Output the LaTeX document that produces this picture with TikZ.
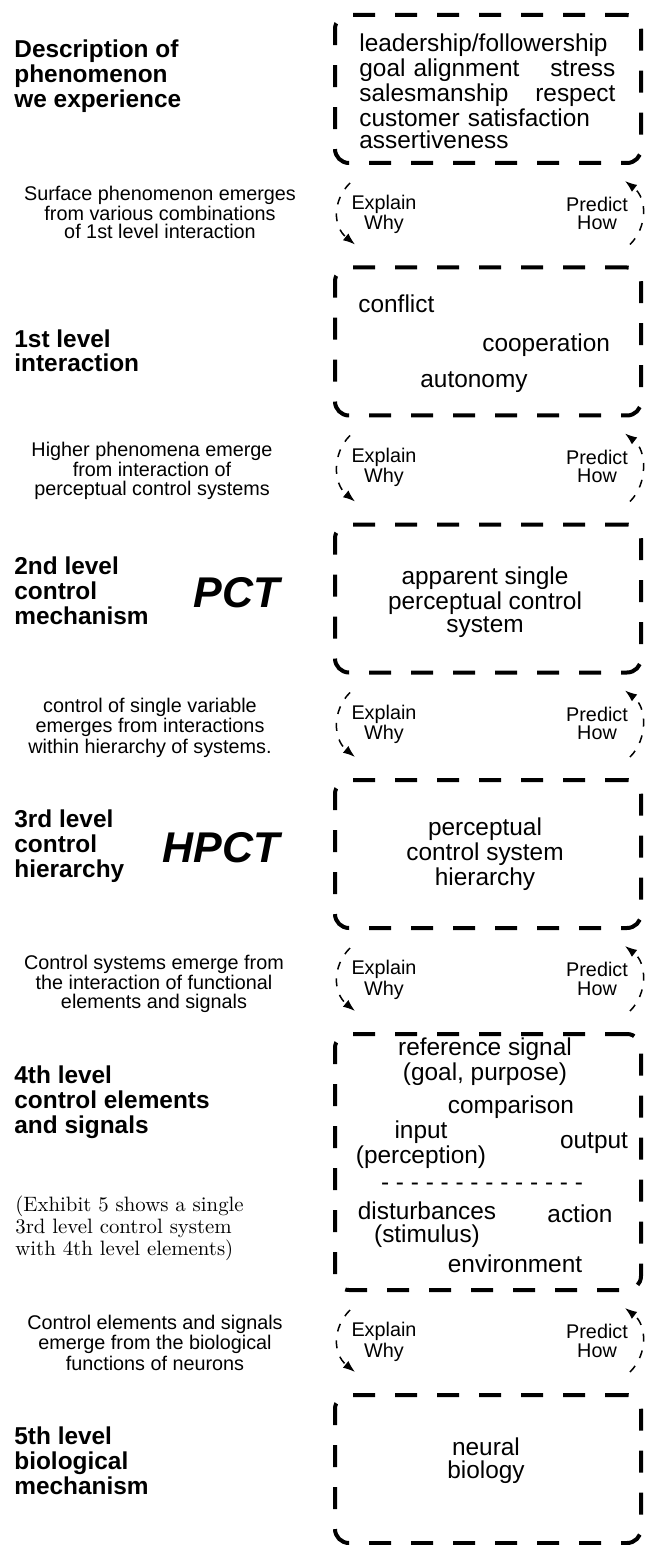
\documentclass[tikz,border=0pt]{standalone}
\usepackage{fontspec}
\usepackage{tikz}
\usetikzlibrary{arrows.meta}
\newfontfamily\helv{Liberation Sans}

\begin{document}
\begin{tikzpicture}[x=0.5pt,y=-0.5pt,
  levelbox/.style={draw, line width=2pt, dash pattern=on 11pt off 10pt,
    rounded corners=7pt, minimum width=153pt, minimum height=74pt, inner sep=0pt},
  boxtext/.style={font=\helv\fontsize{12.2}{11.25}\selectfont, align=center, inner sep=0pt, anchor=base},
  heading/.style={font=\helv\bfseries\fontsize{12.2}{12.5}\selectfont, align=left, inner sep=0pt, anchor=base west},
  note/.style={font=\helv\fontsize{9.9}{9.15}\selectfont, align=center, inner sep=0pt, anchor=base},
  acronym/.style={font=\helv\bfseries\itshape\fontsize{21.5}{21.5}\selectfont, inner sep=0pt, anchor=base east},
  emergearc/.style={line width=0.75pt, dash pattern=on 4pt off 4.5pt, -{Latex[length=6pt,width=4.4pt]}}]
  \useasboundingbox (0,0) rectangle (644,1545);

  % explain/predict loop between two levels (labels sit on their last line)
  \def\emerge#1#2{
    \draw[emergearc] ([shift={(17,18)}]#1.south west) .. controls +(-18,18) and +(-22,-18) .. ([shift={(22,-21)}]#2.north west);
    \draw[emergearc] ([shift={(-13,-21)}]#2.north east) .. controls +(18,-18) and +(22,17) .. ([shift={(-18,16)}]#1.south east);
    \node[note] (#1why) at ([shift={(-104,65)}]#1.south) {Explain\\Why};
    \node[note] (#1how) at ([shift={(109,65)}]#1.south) {Predict\\How};
  }

  % Draw the level boxes
  \node[levelbox] (b1) at (488,89) {};
  \node[levelbox] (b2) at (488,341.5) {};
  \node[levelbox] (b3) at (488,598.5) {};
  \node[levelbox] (b4) at (488,854) {};
  \node[levelbox, minimum height=128pt] (b5) at (488,1162) {};
  \node[levelbox] (b6) at (488,1469) {};

  % Box contents
  \node[boxtext, align=left, text width=128pt, anchor=base west] (t1) at (359,52)
    {leadership/followership\\goal alignment\hfill stress\\salesmanship\hfill respect\\customer satisfaction\\assertiveness};
  \node[boxtext, anchor=base west] (conflict) at (358,313) {conflict};
  \node[boxtext, anchor=base west] (cooperation) at (482,352) {cooperation};
  \node[boxtext, anchor=base west] (autonomy) at (420,388) {autonomy};
  \node[boxtext] (t3) at (485,632) {apparent single\\perceptual control\\system};
  \node[boxtext] (t4) at (485,885) {perceptual\\control system\\hierarchy};
  \node[boxtext] (refsig) at (485,1080) {reference signal\\(goal, purpose)};
  \node[boxtext] (compare) at (511,1113) {comparison};
  \node[boxtext] (input) at (421,1163) {input\\(perception)};
  \node[boxtext] (output) at (594,1148) {output};
  \node[boxtext] (divider) at (482,1190) {- - - - - - - - - - - - - -};
  \node[boxtext] (disturb) at (427,1242) {disturbances\\(stimulus)};
  \node[boxtext] (action) at (580,1222) {action};
  \node[boxtext] (environ) at (515,1272) {environment};
  \node[boxtext] (t6) at (486,1478) {neural\\biology};

  % Level headings
  \node[heading] (h0) at (14,108) {Description of\\phenomenon\\we experience};
  \node[heading] (h1) at (14,372) {1st level\\interaction};
  \node[heading] (h2) at (14,624) {2nd level\\control\\mechanism};
  \node[heading] (h3) at (14,877) {3rd level\\control\\hierarchy};
  \node[heading] (h4) at (14,1133) {4th level\\control elements\\and signals};
  \node[heading] (h5) at (14,1494) {5th level\\biological\\mechanism};
  \node[acronym] (pct) at (280,607) {PCT};
  \node[acronym] (hpct) at (280,862) {HPCT};

  % Emergence notes
  \node[note] (n1) at (160,239) {Surface phenomenon emerges\\from various combinations\\of 1st level interaction};
  \node[note] (n2) at (152,495) {Higher phenomena emerge\\from interaction of\\perceptual control systems};
  \node[note] (n3) at (150,753) {control of single variable\\emerges from interactions\\within hierarchy of systems.};
  \node[note] (n4) at (154,1008) {Control systems emerge from\\the interaction of functional\\elements and signals};
  \node[note] (n5) at (155,1370) {Control elements and signals\\emerge from the biological\\functions of neurons};
  \node[font=\fontsize{10.4}{9.25}\selectfont, align=left, inner sep=0pt, anchor=base west] (exhibit) at (15,1255)
    {(Exhibit 5 shows a single\\3rd level control system\\with 4th level elements)};

  % Explain / predict loops
  \emerge{b1}{b2}
  \emerge{b2}{b3}
  \emerge{b3}{b4}
  \emerge{b4}{b5}
  \emerge{b5}{b6}

\end{tikzpicture}
\end{document}
